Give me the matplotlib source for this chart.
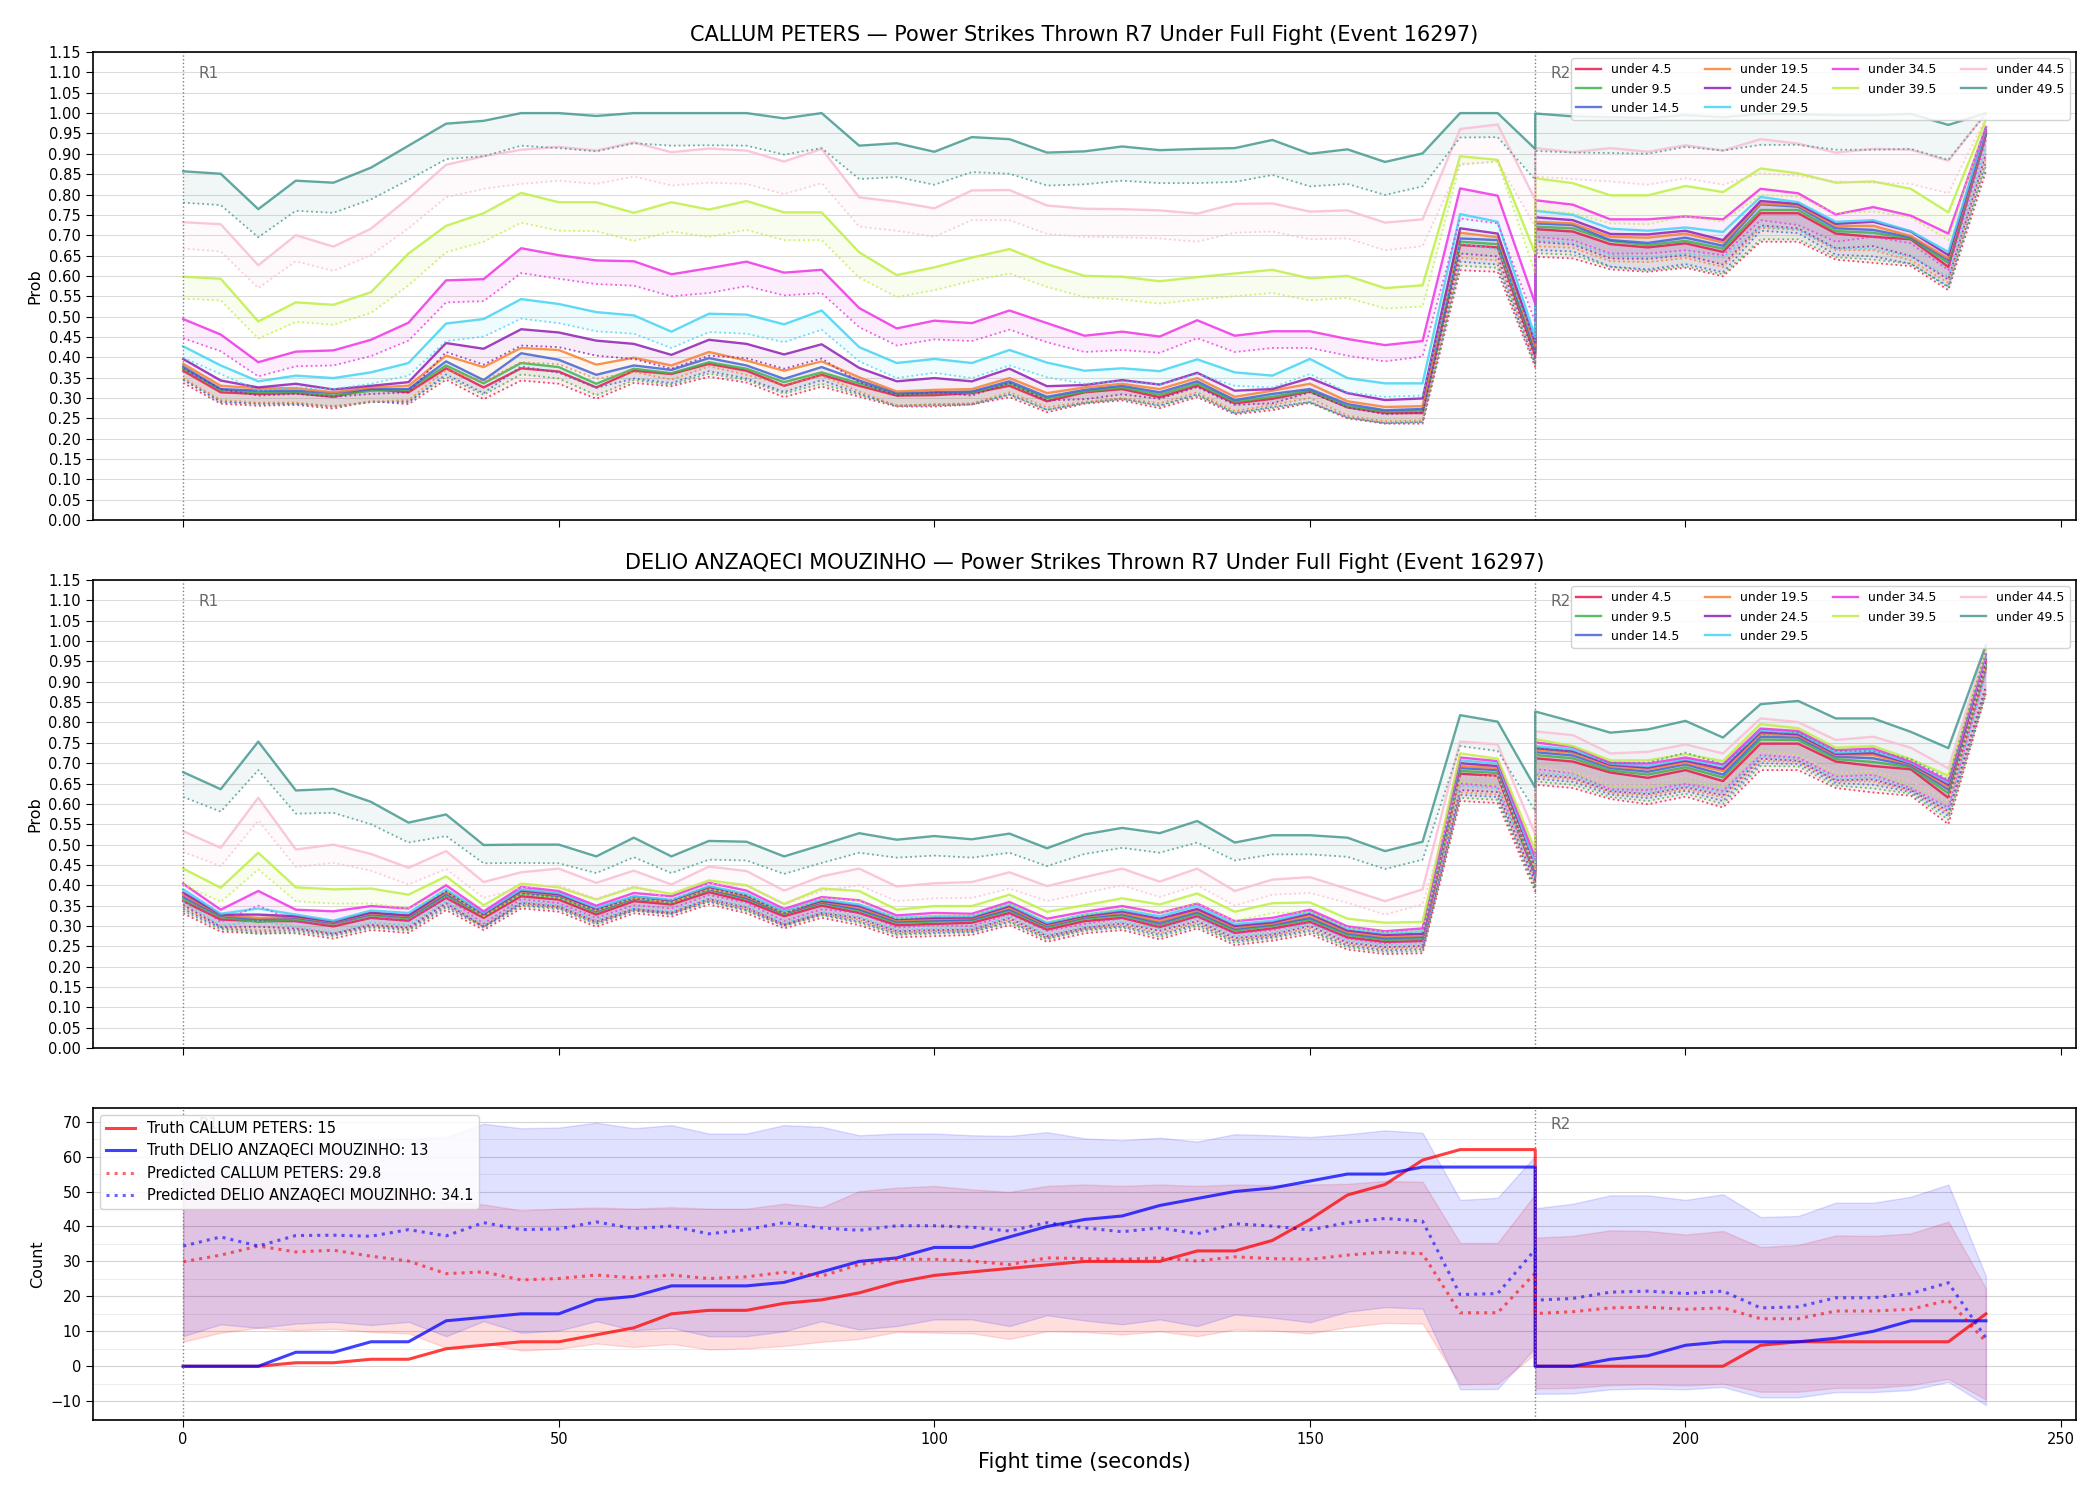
import matplotlib
matplotlib.use("Agg")
import matplotlib.pyplot as plt
from matplotlib.ticker import MultipleLocator

# fight time (s); 180 appears twice: end of R1 and start of R2
t = [0, 5, 10, 15, 20, 25, 30, 35, 40, 45, 50, 55, 60, 65, 70, 75, 80, 85, 90,
     95, 100, 105, 110, 115, 120, 125, 130, 135, 140, 145, 150, 155, 160, 165,
     170, 175, 180,
     180, 185, 190, 195, 200, 205, 210, 215, 220, 225, 230, 235, 240]

thresholds = ["4.5", "9.5", "14.5", "19.5", "24.5", "29.5", "34.5", "39.5", "44.5", "49.5"]
colors = ["#e6194b", "#3cb44b", "#4363d8", "#f58231", "#911eb4",
          "#42d4f4", "#f032e6", "#bfef45", "#fabed4", "#469990"]

fighter_a = "CALLUM PETERS"
fighter_b = "DELIO ANZAQECI MOUZINHO"
round_starts = [0, 180]

# ---- CALLUM PETERS: P(under X), solid = live line, dotted = lower estimate
a_u4 = [0.367, 0.314, 0.31, 0.312, 0.303, 0.322, 0.314, 0.373, 0.326, 0.373, 0.365, 0.326, 0.367, 0.359, 0.384, 0.367, 0.33, 0.357, 0.33, 0.306, 0.307, 0.312, 0.33, 0.292, 0.314, 0.322, 0.302, 0.33, 0.287, 0.298, 0.316, 0.277, 0.263, 0.263, 0.676, 0.67, 0.404,
        0.715, 0.709, 0.678, 0.67, 0.68, 0.659, 0.754, 0.754, 0.704, 0.696, 0.69, 0.622, 0.947]
a_u4_dot = [0.337, 0.286, 0.281, 0.283, 0.274, 0.292, 0.285, 0.345, 0.297, 0.343, 0.335, 0.298, 0.337, 0.329, 0.352, 0.338, 0.302, 0.328, 0.303, 0.279, 0.279, 0.284, 0.302, 0.265, 0.286, 0.294, 0.275, 0.302, 0.26, 0.27, 0.288, 0.25, 0.237, 0.237, 0.614, 0.61, 0.376,
            0.647, 0.643, 0.616, 0.61, 0.62, 0.599, 0.684, 0.684, 0.64, 0.632, 0.624, 0.565, 0.857]
a_u9 = [0.373, 0.32, 0.314, 0.314, 0.306, 0.318, 0.32, 0.38, 0.336, 0.386, 0.376, 0.335, 0.372, 0.361, 0.388, 0.372, 0.339, 0.363, 0.336, 0.31, 0.312, 0.314, 0.336, 0.299, 0.316, 0.326, 0.308, 0.335, 0.291, 0.303, 0.318, 0.279, 0.267, 0.269, 0.684, 0.678, 0.413,
        0.721, 0.717, 0.686, 0.676, 0.686, 0.667, 0.762, 0.762, 0.71, 0.706, 0.692, 0.632, 0.949]
a_u9_dot = [0.345, 0.292, 0.286, 0.286, 0.278, 0.29, 0.292, 0.352, 0.308, 0.358, 0.348, 0.307, 0.344, 0.333, 0.36, 0.344, 0.311, 0.335, 0.308, 0.282, 0.284, 0.286, 0.308, 0.271, 0.288, 0.298, 0.28, 0.307, 0.263, 0.275, 0.29, 0.251, 0.239, 0.241, 0.625, 0.62, 0.382,
            0.656, 0.652, 0.622, 0.613, 0.624, 0.604, 0.69, 0.69, 0.646, 0.64, 0.63, 0.572, 0.87]
a_u14 = [0.377, 0.322, 0.318, 0.318, 0.312, 0.322, 0.322, 0.39, 0.344, 0.41, 0.394, 0.357, 0.38, 0.369, 0.398, 0.38, 0.347, 0.376, 0.343, 0.312, 0.314, 0.316, 0.341, 0.303, 0.32, 0.33, 0.314, 0.341, 0.295, 0.31, 0.322, 0.285, 0.27, 0.273, 0.692, 0.688, 0.417,
         0.729, 0.725, 0.688, 0.681, 0.694, 0.674, 0.776, 0.77, 0.717, 0.713, 0.695, 0.639, 0.951]
a_u14_dot = [0.345, 0.29, 0.286, 0.286, 0.28, 0.29, 0.29, 0.358, 0.312, 0.378, 0.362, 0.325, 0.348, 0.337, 0.366, 0.348, 0.315, 0.344, 0.311, 0.28, 0.282, 0.284, 0.309, 0.271, 0.288, 0.298, 0.282, 0.309, 0.263, 0.278, 0.29, 0.253, 0.238, 0.241, 0.635, 0.628, 0.385,
             0.664, 0.66, 0.623, 0.616, 0.629, 0.609, 0.711, 0.705, 0.652, 0.648, 0.63, 0.574, 0.88]
a_u19 = [0.384, 0.33, 0.324, 0.324, 0.314, 0.326, 0.33, 0.404, 0.376, 0.423, 0.418, 0.382, 0.399, 0.38, 0.413, 0.392, 0.367, 0.39, 0.351, 0.316, 0.32, 0.322, 0.349, 0.312, 0.326, 0.335, 0.322, 0.349, 0.303, 0.318, 0.335, 0.292, 0.278, 0.28, 0.706, 0.695, 0.425,
         0.733, 0.729, 0.696, 0.694, 0.704, 0.682, 0.778, 0.773, 0.723, 0.723, 0.698, 0.643, 0.955]
a_u19_dot = [0.349, 0.295, 0.289, 0.289, 0.279, 0.291, 0.295, 0.369, 0.341, 0.388, 0.383, 0.347, 0.364, 0.345, 0.378, 0.357, 0.332, 0.355, 0.316, 0.281, 0.285, 0.287, 0.314, 0.277, 0.291, 0.3, 0.287, 0.314, 0.268, 0.283, 0.3, 0.257, 0.243, 0.245, 0.645, 0.638, 0.39,
             0.673, 0.669, 0.636, 0.634, 0.644, 0.622, 0.718, 0.713, 0.663, 0.663, 0.638, 0.583, 0.89]
a_u24 = [0.396, 0.343, 0.326, 0.335, 0.321, 0.33, 0.339, 0.435, 0.421, 0.469, 0.461, 0.441, 0.433, 0.406, 0.443, 0.433, 0.407, 0.432, 0.374, 0.341, 0.349, 0.341, 0.372, 0.329, 0.332, 0.344, 0.333, 0.362, 0.318, 0.322, 0.349, 0.312, 0.295, 0.299, 0.717, 0.704, 0.437,
         0.744, 0.737, 0.703, 0.702, 0.711, 0.688, 0.784, 0.777, 0.728, 0.733, 0.709, 0.651, 0.959]
a_u24_dot = [0.372, 0.322, 0.306, 0.31, 0.303, 0.31, 0.314, 0.413, 0.382, 0.429, 0.425, 0.404, 0.396, 0.372, 0.404, 0.398, 0.372, 0.397, 0.339, 0.306, 0.314, 0.306, 0.337, 0.294, 0.297, 0.309, 0.298, 0.327, 0.283, 0.287, 0.314, 0.277, 0.26, 0.264, 0.655, 0.648, 0.4,
             0.684, 0.677, 0.643, 0.642, 0.651, 0.628, 0.724, 0.717, 0.668, 0.673, 0.649, 0.591, 0.9]
a_u29 = [0.427, 0.38, 0.341, 0.355, 0.349, 0.363, 0.386, 0.483, 0.494, 0.543, 0.531, 0.511, 0.503, 0.463, 0.507, 0.505, 0.481, 0.515, 0.425, 0.386, 0.396, 0.386, 0.418, 0.387, 0.367, 0.373, 0.366, 0.395, 0.363, 0.355, 0.396, 0.349, 0.336, 0.336, 0.752, 0.733, 0.45,
         0.76, 0.75, 0.716, 0.711, 0.719, 0.708, 0.794, 0.781, 0.733, 0.737, 0.71, 0.659, 0.963]
a_u29_dot = [0.399, 0.359, 0.318, 0.326, 0.322, 0.335, 0.355, 0.44, 0.451, 0.495, 0.484, 0.464, 0.458, 0.423, 0.462, 0.458, 0.437, 0.468, 0.39, 0.349, 0.362, 0.349, 0.38, 0.351, 0.335, 0.341, 0.333, 0.359, 0.33, 0.326, 0.359, 0.314, 0.303, 0.306, 0.68, 0.665, 0.441,
             0.688, 0.68, 0.651, 0.645, 0.655, 0.645, 0.721, 0.713, 0.667, 0.667, 0.647, 0.598, 0.918]
a_u34 = [0.494, 0.456, 0.388, 0.414, 0.417, 0.443, 0.485, 0.589, 0.592, 0.668, 0.651, 0.638, 0.636, 0.604, 0.619, 0.635, 0.608, 0.615, 0.521, 0.471, 0.49, 0.484, 0.515, 0.484, 0.453, 0.463, 0.451, 0.491, 0.453, 0.464, 0.464, 0.445, 0.43, 0.44, 0.815, 0.797, 0.532,
         0.786, 0.775, 0.739, 0.739, 0.746, 0.739, 0.814, 0.803, 0.751, 0.769, 0.748, 0.704, 0.966]
a_u34_dot = [0.447, 0.415, 0.353, 0.378, 0.38, 0.403, 0.441, 0.535, 0.538, 0.607, 0.593, 0.58, 0.576, 0.55, 0.558, 0.575, 0.552, 0.558, 0.474, 0.429, 0.444, 0.44, 0.468, 0.437, 0.413, 0.418, 0.411, 0.447, 0.413, 0.423, 0.423, 0.404, 0.39, 0.402, 0.741, 0.729, 0.487,
             0.696, 0.688, 0.655, 0.655, 0.663, 0.651, 0.737, 0.725, 0.684, 0.696, 0.68, 0.614, 0.935]
a_u39 = [0.598, 0.593, 0.488, 0.535, 0.529, 0.56, 0.655, 0.723, 0.754, 0.804, 0.781, 0.781, 0.755, 0.781, 0.763, 0.784, 0.756, 0.756, 0.658, 0.602, 0.621, 0.645, 0.666, 0.629, 0.6, 0.598, 0.587, 0.597, 0.606, 0.615, 0.594, 0.6, 0.57, 0.577, 0.894, 0.885, 0.655,
         0.84, 0.828, 0.798, 0.798, 0.821, 0.806, 0.864, 0.852, 0.829, 0.832, 0.814, 0.756, 0.984]
a_u39_dot = [0.544, 0.54, 0.446, 0.487, 0.48, 0.509, 0.577, 0.658, 0.684, 0.731, 0.711, 0.71, 0.686, 0.709, 0.696, 0.713, 0.688, 0.688, 0.596, 0.548, 0.565, 0.588, 0.606, 0.573, 0.548, 0.542, 0.532, 0.542, 0.55, 0.558, 0.54, 0.546, 0.52, 0.525, 0.875, 0.881, 0.606,
             0.762, 0.754, 0.729, 0.727, 0.746, 0.733, 0.799, 0.795, 0.754, 0.758, 0.744, 0.688, 0.976]
a_u44 = [0.732, 0.727, 0.626, 0.7, 0.672, 0.716, 0.791, 0.873, 0.894, 0.91, 0.917, 0.908, 0.928, 0.904, 0.913, 0.908, 0.881, 0.912, 0.793, 0.782, 0.766, 0.81, 0.811, 0.773, 0.765, 0.764, 0.761, 0.753, 0.777, 0.778, 0.758, 0.761, 0.731, 0.739, 0.961, 0.972, 0.787,
         0.914, 0.904, 0.914, 0.905, 0.921, 0.908, 0.936, 0.925, 0.903, 0.912, 0.91, 0.883, 1.0]
a_u44_dot = [0.667, 0.66, 0.57, 0.636, 0.612, 0.651, 0.717, 0.793, 0.814, 0.826, 0.834, 0.826, 0.844, 0.822, 0.829, 0.826, 0.801, 0.828, 0.721, 0.711, 0.696, 0.737, 0.737, 0.703, 0.696, 0.695, 0.692, 0.684, 0.706, 0.709, 0.69, 0.692, 0.663, 0.673, 0.873, 0.881, 0.721,
             0.844, 0.838, 0.832, 0.824, 0.84, 0.824, 0.852, 0.846, 0.832, 0.829, 0.826, 0.803, 0.99]
a_u49 = [0.857, 0.851, 0.764, 0.834, 0.829, 0.866, 0.92, 0.974, 0.981, 1.0, 1.0, 0.993, 1.0, 1.0, 1.0, 1.0, 0.987, 1.0, 0.92, 0.926, 0.905, 0.941, 0.936, 0.903, 0.906, 0.918, 0.909, 0.912, 0.914, 0.934, 0.9, 0.911, 0.88, 0.901, 1.0, 1.0, 0.912,
         0.999, 0.992, 0.99, 0.988, 0.995, 0.99, 0.998, 0.997, 0.995, 0.995, 0.998, 0.971, 1.0]
a_u49_dot = [0.78, 0.774, 0.695, 0.76, 0.755, 0.788, 0.836, 0.887, 0.894, 0.92, 0.914, 0.906, 0.926, 0.92, 0.921, 0.92, 0.898, 0.914, 0.838, 0.843, 0.824, 0.855, 0.851, 0.822, 0.825, 0.834, 0.828, 0.828, 0.831, 0.848, 0.82, 0.826, 0.799, 0.82, 0.94, 0.941, 0.836,
             0.907, 0.903, 0.902, 0.9, 0.917, 0.908, 0.922, 0.922, 0.91, 0.91, 0.912, 0.885, 0.998]

# ---- DELIO ANZAQECI MOUZINHO
b_u4 = [0.361, 0.316, 0.312, 0.312, 0.299, 0.32, 0.313, 0.369, 0.32, 0.373, 0.365, 0.328, 0.361, 0.353, 0.383, 0.361, 0.324, 0.35, 0.332, 0.302, 0.305, 0.308, 0.332, 0.291, 0.312, 0.32, 0.297, 0.324, 0.283, 0.294, 0.31, 0.272, 0.261, 0.263, 0.674, 0.669, 0.422,
        0.712, 0.704, 0.677, 0.664, 0.683, 0.656, 0.748, 0.748, 0.704, 0.693, 0.685, 0.615, 0.935]
b_u4_dot = [0.331, 0.286, 0.282, 0.282, 0.269, 0.29, 0.283, 0.339, 0.29, 0.343, 0.335, 0.298, 0.331, 0.323, 0.353, 0.331, 0.294, 0.32, 0.302, 0.272, 0.275, 0.278, 0.302, 0.261, 0.282, 0.29, 0.267, 0.294, 0.253, 0.264, 0.28, 0.242, 0.231, 0.233, 0.607, 0.602, 0.385,
            0.647, 0.639, 0.612, 0.599, 0.618, 0.591, 0.683, 0.683, 0.639, 0.628, 0.62, 0.55, 0.87]
b_u9 = [0.367, 0.322, 0.31, 0.316, 0.305, 0.326, 0.319, 0.375, 0.326, 0.379, 0.371, 0.334, 0.367, 0.359, 0.389, 0.367, 0.33, 0.356, 0.338, 0.308, 0.311, 0.314, 0.338, 0.297, 0.318, 0.326, 0.303, 0.33, 0.289, 0.3, 0.316, 0.278, 0.266, 0.268, 0.681, 0.676, 0.43,
        0.72, 0.712, 0.682, 0.672, 0.69, 0.665, 0.758, 0.757, 0.71, 0.703, 0.69, 0.626, 0.94]
b_u9_dot = [0.337, 0.292, 0.28, 0.286, 0.275, 0.296, 0.289, 0.345, 0.296, 0.349, 0.341, 0.304, 0.337, 0.329, 0.359, 0.337, 0.3, 0.326, 0.308, 0.278, 0.281, 0.284, 0.308, 0.267, 0.288, 0.296, 0.273, 0.3, 0.259, 0.27, 0.286, 0.248, 0.236, 0.238, 0.615, 0.61, 0.392,
            0.655, 0.647, 0.617, 0.607, 0.625, 0.6, 0.693, 0.692, 0.645, 0.638, 0.625, 0.561, 0.875]
b_u14 = [0.372, 0.325, 0.316, 0.32, 0.308, 0.329, 0.322, 0.379, 0.328, 0.382, 0.374, 0.337, 0.368, 0.36, 0.391, 0.369, 0.331, 0.358, 0.341, 0.311, 0.314, 0.316, 0.341, 0.3, 0.321, 0.329, 0.308, 0.334, 0.293, 0.303, 0.32, 0.282, 0.27, 0.273, 0.688, 0.683, 0.436,
         0.727, 0.719, 0.688, 0.679, 0.697, 0.672, 0.765, 0.763, 0.716, 0.712, 0.694, 0.635, 0.945]
b_u14_dot = [0.342, 0.295, 0.286, 0.29, 0.278, 0.299, 0.292, 0.349, 0.298, 0.352, 0.344, 0.307, 0.338, 0.33, 0.361, 0.339, 0.301, 0.328, 0.311, 0.281, 0.284, 0.286, 0.311, 0.27, 0.291, 0.299, 0.278, 0.304, 0.263, 0.273, 0.29, 0.252, 0.24, 0.243, 0.622, 0.617, 0.398,
             0.662, 0.654, 0.623, 0.614, 0.632, 0.607, 0.7, 0.698, 0.651, 0.647, 0.629, 0.57, 0.88]
b_u19 = [0.377, 0.327, 0.32, 0.322, 0.31, 0.331, 0.324, 0.383, 0.328, 0.385, 0.376, 0.339, 0.37, 0.361, 0.393, 0.372, 0.333, 0.36, 0.345, 0.314, 0.317, 0.319, 0.345, 0.302, 0.323, 0.332, 0.312, 0.338, 0.296, 0.306, 0.325, 0.285, 0.274, 0.277, 0.693, 0.688, 0.442,
         0.733, 0.725, 0.692, 0.685, 0.701, 0.681, 0.771, 0.768, 0.72, 0.72, 0.697, 0.641, 0.95]
b_u19_dot = [0.347, 0.297, 0.29, 0.292, 0.28, 0.301, 0.294, 0.353, 0.298, 0.355, 0.346, 0.309, 0.34, 0.331, 0.363, 0.342, 0.303, 0.33, 0.315, 0.284, 0.287, 0.289, 0.315, 0.272, 0.293, 0.302, 0.282, 0.308, 0.266, 0.276, 0.295, 0.255, 0.244, 0.247, 0.628, 0.623, 0.404,
             0.668, 0.66, 0.627, 0.62, 0.636, 0.616, 0.706, 0.703, 0.655, 0.655, 0.632, 0.576, 0.885]
b_u24 = [0.382, 0.328, 0.328, 0.324, 0.311, 0.333, 0.326, 0.386, 0.329, 0.387, 0.378, 0.341, 0.372, 0.363, 0.396, 0.375, 0.334, 0.362, 0.349, 0.317, 0.32, 0.321, 0.349, 0.305, 0.325, 0.336, 0.318, 0.342, 0.3, 0.309, 0.33, 0.289, 0.278, 0.281, 0.7, 0.693, 0.448,
         0.737, 0.729, 0.696, 0.689, 0.706, 0.686, 0.776, 0.771, 0.723, 0.725, 0.699, 0.647, 0.955]
b_u24_dot = [0.352, 0.298, 0.298, 0.294, 0.281, 0.303, 0.296, 0.356, 0.299, 0.357, 0.348, 0.311, 0.342, 0.333, 0.366, 0.345, 0.304, 0.332, 0.319, 0.287, 0.29, 0.291, 0.319, 0.275, 0.295, 0.306, 0.288, 0.312, 0.27, 0.279, 0.3, 0.259, 0.248, 0.251, 0.634, 0.629, 0.41,
             0.672, 0.664, 0.631, 0.624, 0.641, 0.621, 0.711, 0.706, 0.658, 0.66, 0.634, 0.582, 0.89]
b_u29 = [0.39, 0.33, 0.343, 0.328, 0.313, 0.338, 0.332, 0.39, 0.332, 0.39, 0.381, 0.345, 0.373, 0.365, 0.398, 0.379, 0.336, 0.365, 0.353, 0.32, 0.324, 0.324, 0.353, 0.308, 0.328, 0.34, 0.324, 0.349, 0.305, 0.313, 0.335, 0.294, 0.283, 0.287, 0.707, 0.699, 0.455,
         0.742, 0.734, 0.699, 0.693, 0.71, 0.693, 0.781, 0.775, 0.726, 0.73, 0.701, 0.652, 0.964]
b_u29_dot = [0.36, 0.3, 0.313, 0.298, 0.283, 0.308, 0.302, 0.36, 0.302, 0.36, 0.351, 0.315, 0.343, 0.335, 0.368, 0.349, 0.306, 0.335, 0.323, 0.29, 0.294, 0.294, 0.323, 0.278, 0.298, 0.31, 0.294, 0.319, 0.275, 0.283, 0.305, 0.264, 0.253, 0.257, 0.645, 0.638, 0.42,
             0.677, 0.669, 0.634, 0.628, 0.645, 0.628, 0.716, 0.71, 0.661, 0.665, 0.636, 0.587, 0.92]
b_u34 = [0.404, 0.34, 0.386, 0.34, 0.336, 0.349, 0.343, 0.4, 0.336, 0.396, 0.386, 0.35, 0.381, 0.373, 0.406, 0.387, 0.342, 0.371, 0.363, 0.326, 0.332, 0.33, 0.359, 0.318, 0.335, 0.349, 0.332, 0.355, 0.312, 0.32, 0.34, 0.299, 0.287, 0.294, 0.714, 0.705, 0.468,
         0.751, 0.74, 0.701, 0.699, 0.714, 0.697, 0.785, 0.779, 0.732, 0.736, 0.704, 0.656, 0.968]
b_u34_dot = [0.374, 0.31, 0.35, 0.31, 0.306, 0.319, 0.313, 0.37, 0.306, 0.366, 0.356, 0.32, 0.351, 0.343, 0.376, 0.357, 0.312, 0.341, 0.333, 0.296, 0.302, 0.3, 0.329, 0.288, 0.305, 0.319, 0.302, 0.325, 0.282, 0.29, 0.31, 0.269, 0.257, 0.264, 0.65, 0.642, 0.43,
             0.686, 0.675, 0.636, 0.634, 0.649, 0.632, 0.72, 0.714, 0.667, 0.671, 0.639, 0.591, 0.925]
b_u39 = [0.441, 0.394, 0.48, 0.395, 0.39, 0.392, 0.377, 0.422, 0.351, 0.404, 0.395, 0.365, 0.395, 0.379, 0.412, 0.4, 0.354, 0.392, 0.386, 0.34, 0.349, 0.349, 0.377, 0.335, 0.351, 0.368, 0.353, 0.38, 0.335, 0.356, 0.358, 0.318, 0.308, 0.31, 0.724, 0.711, 0.486,
         0.759, 0.742, 0.707, 0.707, 0.722, 0.705, 0.796, 0.786, 0.738, 0.742, 0.71, 0.669, 0.978]
b_u39_dot = [0.402, 0.359, 0.439, 0.361, 0.355, 0.355, 0.343, 0.386, 0.324, 0.379, 0.369, 0.338, 0.369, 0.357, 0.39, 0.376, 0.331, 0.368, 0.362, 0.318, 0.326, 0.326, 0.354, 0.312, 0.327, 0.344, 0.33, 0.356, 0.312, 0.332, 0.334, 0.296, 0.285, 0.287, 0.655, 0.645, 0.44,
             0.694, 0.677, 0.642, 0.642, 0.657, 0.64, 0.731, 0.721, 0.673, 0.677, 0.645, 0.604, 0.94]
b_u44 = [0.533, 0.492, 0.615, 0.488, 0.5, 0.477, 0.443, 0.484, 0.408, 0.432, 0.441, 0.406, 0.436, 0.402, 0.446, 0.435, 0.387, 0.422, 0.441, 0.397, 0.405, 0.408, 0.432, 0.398, 0.42, 0.441, 0.409, 0.441, 0.386, 0.414, 0.42, 0.391, 0.361, 0.39, 0.753, 0.746, 0.525,
         0.778, 0.769, 0.724, 0.728, 0.746, 0.724, 0.81, 0.801, 0.757, 0.765, 0.738, 0.687, 0.984]
b_u44_dot = [0.482, 0.447, 0.559, 0.445, 0.455, 0.436, 0.402, 0.44, 0.369, 0.394, 0.4, 0.367, 0.398, 0.365, 0.404, 0.398, 0.353, 0.386, 0.4, 0.361, 0.368, 0.369, 0.392, 0.361, 0.381, 0.4, 0.371, 0.4, 0.35, 0.377, 0.381, 0.357, 0.328, 0.353, 0.664, 0.669, 0.443,
             0.689, 0.681, 0.648, 0.648, 0.669, 0.648, 0.726, 0.718, 0.677, 0.681, 0.656, 0.607, 0.952]
b_u49 = [0.678, 0.636, 0.753, 0.633, 0.637, 0.605, 0.554, 0.574, 0.499, 0.5, 0.5, 0.471, 0.517, 0.471, 0.509, 0.507, 0.471, 0.499, 0.528, 0.512, 0.521, 0.513, 0.527, 0.491, 0.525, 0.541, 0.528, 0.558, 0.505, 0.523, 0.523, 0.517, 0.484, 0.507, 0.818, 0.802, 0.64,
         0.827, 0.802, 0.775, 0.783, 0.804, 0.763, 0.845, 0.853, 0.81, 0.81, 0.777, 0.737, 0.99]
b_u49_dot = [0.617, 0.581, 0.683, 0.576, 0.578, 0.55, 0.505, 0.521, 0.454, 0.455, 0.454, 0.43, 0.469, 0.43, 0.463, 0.461, 0.428, 0.455, 0.48, 0.468, 0.473, 0.468, 0.48, 0.447, 0.477, 0.492, 0.48, 0.505, 0.461, 0.476, 0.476, 0.47, 0.44, 0.463, 0.742, 0.73, 0.582,
             0.738, 0.726, 0.701, 0.701, 0.726, 0.697, 0.771, 0.775, 0.73, 0.73, 0.71, 0.66, 0.976]

# ---- cumulative counts
truth_a = [0, 0, 0, 1, 1, 2, 2, 5, 6, 7, 7, 9, 11, 15, 16, 16, 18, 19, 21, 24, 26, 27, 28, 29, 30, 30, 30, 33, 33, 36, 42, 49, 52, 59, 62, 62, 62,
           0, 0, 0, 0, 0, 0, 6, 7, 7, 7, 7, 7, 15]
truth_b = [0, 0, 0, 4, 4, 7, 7, 13, 14, 15, 15, 19, 20, 23, 23, 23, 24, 27, 30, 31, 34, 34, 37, 40, 42, 43, 46, 48, 50, 51, 53, 55, 55, 57, 57, 57, 57,
           0, 0, 2, 3, 6, 7, 7, 7, 8, 10, 13, 13, 13]
pred_a = [29.9, 31.8, 34.4, 32.7, 33.2, 31.5, 30.1, 26.5, 27.0, 24.7, 25.1, 26.1, 25.3, 26.1, 25.1, 25.6, 26.9, 25.8, 29.1, 30.6, 30.6, 30.1, 29.1, 31.0, 30.8, 30.6, 31.0, 30.1, 31.3, 30.8, 30.6, 31.8, 32.7, 32.2, 15.3, 15.3, 26.7,
          15.1, 15.6, 16.7, 16.9, 16.3, 16.7, 13.6, 13.6, 15.8, 15.8, 16.3, 18.9, 7.0]
pred_b = [34.4, 37.0, 34.4, 37.4, 37.5, 37.2, 39.1, 37.3, 41.1, 39.1, 39.3, 41.3, 39.4, 40.1, 37.9, 39.1, 41.1, 39.6, 38.9, 40.2, 40.2, 39.8, 38.7, 41.1, 39.6, 38.5, 39.6, 37.9, 40.8, 40.1, 39.0, 41.1, 42.3, 41.5, 20.5, 20.8, 33.4,
          18.9, 19.4, 21.2, 21.5, 20.8, 21.5, 16.7, 17.0, 19.6, 19.6, 20.8, 23.9, 8.1]
band_a_lo = [7.0, 9.6, 11.0, 10.3, 10.7, 9.8, 9.4, 5.3, 6.7, 4.5, 5.0, 6.5, 5.5, 6.4, 4.8, 5.1, 5.8, 7.0, 7.8, 9.8, 9.6, 9.4, 7.8, 10.0, 9.8, 9.1, 10.0, 8.6, 10.5, 10.2, 9.4, 11.2, 12.4, 12.2, -5.2, -5.0, 3.5,
             -6.4, -6.2, -5.4, -5.2, -5.5, -5.0, -7.3, -7.3, -6.2, -6.2, -5.4, -3.6, -9.5]
band_a_hi = [52.5, 53.5, 54.0, 52.0, 52.0, 51.0, 50.0, 47.0, 46.3, 44.6, 45.1, 45.4, 45.1, 45.5, 45.1, 45.1, 46.5, 45.5, 50.1, 51.1, 51.6, 50.6, 49.9, 51.6, 52.0, 51.6, 52.0, 51.6, 52.0, 51.8, 52.0, 52.2, 53.0, 52.8, 35.3, 35.3, 49.2,
             36.8, 37.3, 38.9, 38.7, 37.7, 38.7, 34.1, 34.7, 37.4, 37.3, 38.0, 41.4, 22.3]
band_b_lo = [8.6, 12.0, 11.0, 12.2, 12.7, 11.8, 12.7, 8.6, 12.9, 9.6, 10.2, 12.9, 10.3, 11.0, 8.6, 8.6, 10.0, 12.9, 10.5, 11.5, 13.4, 13.4, 11.5, 14.6, 13.1, 12.0, 13.4, 11.5, 14.8, 13.9, 12.6, 15.6, 16.9, 16.5, -6.6, -6.5, 5.3,
             -7.9, -7.8, -6.6, -6.4, -6.6, -5.9, -8.9, -8.9, -7.4, -7.4, -6.8, -4.5, -11.1]
band_b_hi = [61.5, 59.5, 58.0, 62.0, 63.5, 65.0, 65.2, 65.6, 69.4, 68.1, 68.3, 69.7, 68.1, 69.0, 66.6, 66.6, 69.0, 68.5, 66.1, 66.6, 66.6, 66.1, 65.9, 67.0, 65.2, 64.7, 65.4, 64.3, 66.4, 66.1, 65.6, 66.4, 67.5, 66.8, 47.6, 48.2, 60.2,
             45.2, 46.5, 48.9, 48.9, 47.6, 49.2, 42.7, 43.0, 46.8, 46.8, 48.5, 52.0, 25.8]

truth_a_final = 15
truth_b_final = 13
pred_a_final = 29.8
pred_b_final = 34.1

peters_lines = [(a_u4, a_u4_dot), (a_u9, a_u9_dot), (a_u14, a_u14_dot), (a_u19, a_u19_dot),
                (a_u24, a_u24_dot), (a_u29, a_u29_dot), (a_u34, a_u34_dot), (a_u39, a_u39_dot),
                (a_u44, a_u44_dot), (a_u49, a_u49_dot)]
delio_lines = [(b_u4, b_u4_dot), (b_u9, b_u9_dot), (b_u14, b_u14_dot), (b_u19, b_u19_dot),
               (b_u24, b_u24_dot), (b_u29, b_u29_dot), (b_u34, b_u34_dot), (b_u39, b_u39_dot),
               (b_u44, b_u44_dot), (b_u49, b_u49_dot)]

TICK = 10.5
YLAB = 11.5


def round_marks(ax):
    for i, r in enumerate(round_starts):
        ax.axvline(r, color="gray", linestyle=":", linewidth=1.0)
        ax.text(r + 2, 0.97, f"R{i + 1}", transform=ax.get_xaxis_transform(),
                ha="left", va="top", fontsize=11, color="dimgray")


def plot_probs(ax, name, lines):
    for th, c, (solid, dot) in zip(thresholds, colors, lines):
        ax.fill_between(t, dot, solid, color=c, alpha=0.08, linewidth=0)
        ax.plot(t, dot, color=c, linestyle=":", linewidth=1.3, alpha=0.8)
        ax.plot(t, solid, color=c, linewidth=1.7, alpha=0.85, label=f"under {th}")
    round_marks(ax)
    ax.set_ylim(0, 1.15)
    ax.yaxis.set_major_locator(MultipleLocator(0.05))
    ax.grid(axis="y", color="#dcdcdc", linewidth=0.8)
    ax.set_axisbelow(True)
    ax.set_ylabel("Prob", fontsize=YLAB)
    ax.set_title(f"{name} \u2014 Power Strikes Thrown R7 Under Full Fight (Event 16297)",
                 fontsize=15, pad=8)
    ax.legend(loc="upper right", ncol=4, fontsize=9, framealpha=0.85)


fig, axes = plt.subplots(3, 1, figsize=(21, 15), dpi=100, sharex=True,
                         gridspec_kw={"height_ratios": [3, 3, 2]})
fig.subplots_adjust(left=0.0443, right=0.9886, top=0.9653, bottom=0.0533, hspace=0.144)

plot_probs(axes[0], fighter_a, peters_lines)
plot_probs(axes[1], fighter_b, delio_lines)

ax = axes[2]
ax.fill_between(t, band_a_lo, band_a_hi, color="red", alpha=0.13)
ax.fill_between(t, band_b_lo, band_b_hi, color="blue", alpha=0.12)
ax.plot(t, truth_a, color="red", alpha=0.75, linewidth=2.2,
        label=f"Truth {fighter_a}: {truth_a_final}")
ax.plot(t, truth_b, color="blue", alpha=0.75, linewidth=2.2,
        label=f"Truth {fighter_b}: {truth_b_final}")
ax.plot(t, pred_a, color="red", alpha=0.6, linewidth=2.2, linestyle=":",
        label=f"Predicted {fighter_a}: {pred_a_final}")
ax.plot(t, pred_b, color="blue", alpha=0.6, linewidth=2.2, linestyle=":",
        label=f"Predicted {fighter_b}: {pred_b_final}")
round_marks(ax)
ax.set_ylim(-15.4, 73.9)
ax.yaxis.set_major_locator(MultipleLocator(10))
ax.yaxis.set_minor_locator(MultipleLocator(5))
ax.tick_params(axis="y", which="minor", length=0)
ax.grid(axis="y", which="major", color="#d4d4d4", linewidth=0.8)
ax.grid(axis="y", which="minor", color="#ececec", linewidth=0.7)
ax.set_axisbelow(True)
ax.set_ylabel("Count", fontsize=YLAB)
ax.set_xlabel("Fight time (seconds)", fontsize=15)
ax.legend(loc="upper left", fontsize=10.5, framealpha=0.85)

ax.set_xlim(-12, 252)
ax.xaxis.set_major_locator(MultipleLocator(50))

for a in axes:
    a.tick_params(labelsize=TICK, length=5)
    for s in a.spines.values():
        s.set_linewidth(1.2)

fig.savefig("out.png", dpi=100)
